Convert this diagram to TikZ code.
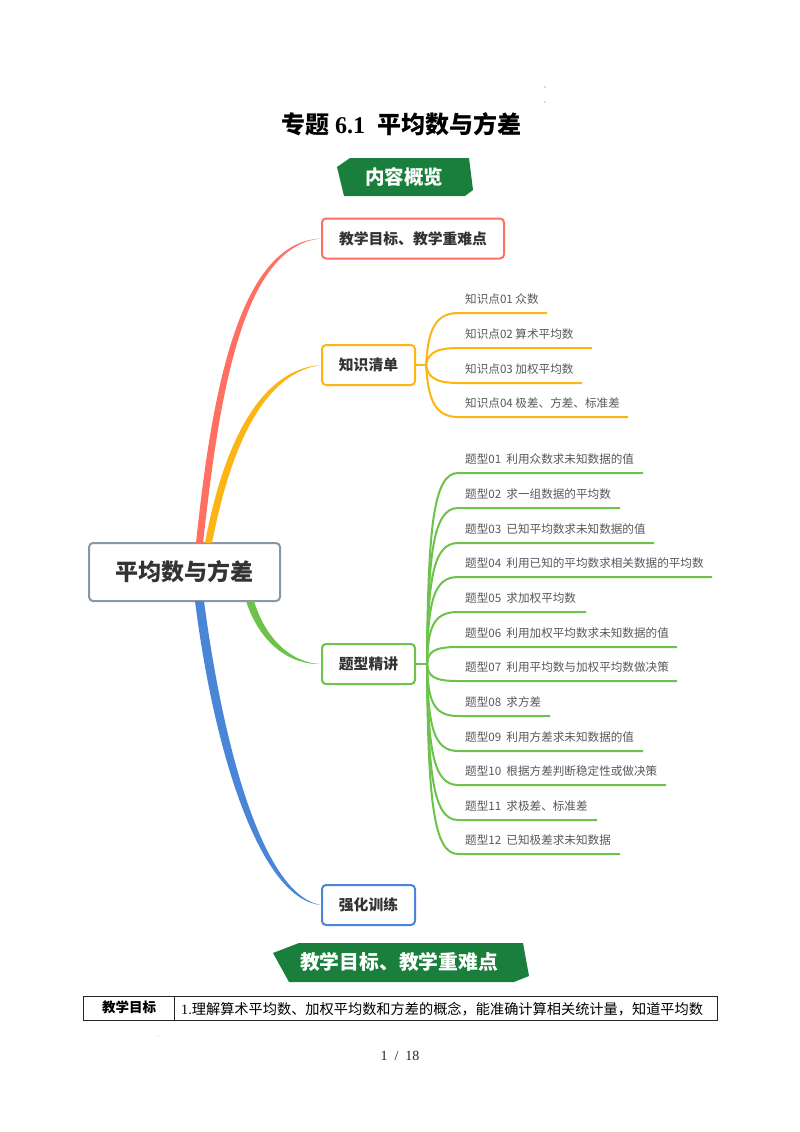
\documentclass[tikz,border=0pt]{standalone}
\usepackage{fontspec}
\setmainfont{Liberation Serif}
\newfontfamily\cjk{Noto Sans CJK SC}
\definecolor{bannergreen}{HTML}{1A7F3C}
\definecolor{mapred}{HTML}{FF7062}
\definecolor{maporange}{HTML}{FDB515}
\definecolor{mapgreen}{HTML}{6CC24A}
\definecolor{mapblue}{HTML}{4A86D8}
\definecolor{mapgray}{HTML}{8A97A8}
\tikzset{
  topic/.style={draw,line width=2pt,rounded corners=4pt,fill=white,inner sep=0pt,
    minimum height=40pt,font=\cjk\bfseries\fontsize{14.8}{16}\selectfont,text=black!80},
  leaf/.style={anchor=west,inner sep=0pt,font=\cjk\fontsize{11.6}{13}\selectfont,text=black!65},
  banner/.style={fill=bannergreen},
  bannertext/.style={text=white,inner sep=0pt},
  cell/.style={draw=black!85,line width=0.9pt,inner sep=0pt,minimum height=24pt,anchor=north west}
}
\begin{document}
\begin{tikzpicture}[x=1pt,y=-1pt]
  \useasboundingbox[fill=white] (0,0) rectangle (800,1132);

  \node[inner sep=0pt] (title) at (401,124) {\fontsize{24}{26}\selectfont\bfseries{\cjk 专题}\hspace{6pt}6.1\hspace{12pt}{\cjk 平均数与方差}};

  \fill[banner] (337,167) -- (350,158) -- (469,158) -- (473,190) -- (465,196) -- (344,196) -- cycle;
  \node[bannertext,font=\cjk\bfseries\fontsize{19.5}{21}\selectfont] (overview) at (404,177) {内容概览};

  % branches first, boxes go over them
  \coordinate (rootRa) at (196,543);
  \coordinate (rootRb) at (203,543);
  \coordinate (rootOa) at (205,543);
  \coordinate (rootOb) at (212,543);
  \coordinate (rootGa) at (246,601);
  \coordinate (rootGb) at (254,601);
  \coordinate (rootBa) at (195,601);
  \coordinate (rootBb) at (204,601);

  \node[topic,draw=mapgray,minimum width=191pt,minimum height=58pt,font=\cjk\bfseries\fontsize{23}{25}\selectfont] (root) at (184.5,572) {平均数与方差};
  \node[topic,draw=mapred,minimum width=182pt] (goal) at (413,238.5) {教学目标、教学重难点};
  \node[topic,draw=maporange,minimum width=93pt] (know) at (368.5,365) {知识清单};
  \node[topic,draw=mapgreen,minimum width=93pt] (type) at (368.5,664) {题型精讲};
  \node[topic,draw=mapblue,minimum width=93pt] (train) at (368.5,905) {强化训练};

  \fill[mapred] (goal.west) .. controls (241,246) and (219,400) .. (rootRb) -- (rootRa) .. controls (211,400) and (237,242) .. (goal.west);
  \fill[maporange] (know.west) .. controls (266,373) and (232,440) .. (rootOb) -- (rootOa) .. controls (224,440) and (262,369) .. (know.west);
  \fill[mapgreen] (type.west) .. controls (292,663) and (266,640) .. (rootGb) -- (rootGa) .. controls (260,644) and (290,665) .. (type.west);
  \fill[mapblue] (train.west) .. controls (266,896) and (225,760) .. (rootBb) -- (rootBa) .. controls (215,760) and (262,900) .. (train.west);

  \coordinate (hubK) at (426,365);
  \draw[maporange,line width=2pt] (know.east) -- (hubK);
  \foreach \n/\yy/\xend/\lab in {1/313/547/知识点01 众数,2/348/592/知识点02 算术平均数,3/383/582/知识点03 加权平均数,4/417/628/知识点04 极差、方差、标准差}{
    \pgfmathsetmacro\ymid{365+0.55*(\yy-365)}
    \pgfmathsetmacro\ytext{\yy-14}
    \node[leaf] (k\n) at (465,\ytext) {\lab};
    \coordinate (k\n s) at (458,\yy);
    \coordinate (k\n e) at (\xend,\yy);
    \draw[maporange,line width=2pt] (hubK) .. controls (428,\ymid) and (432,\yy) .. (k\n s) -- (k\n e);
  }

  \coordinate (hubT) at (427,664);
  \draw[mapgreen,line width=2pt] (type.east) -- (hubT);
  \foreach \n/\yy/\xend/\lab in {1/473/643/题型01\ \ 利用众数求未知数据的值,2/508/620/题型02\ \ 求一组数据的平均数,3/543/654/题型03\ \ 已知平均数求未知数据的值,4/577/712/题型04\ \ 利用已知的平均数求相关数据的平均数,5/612/586/题型05\ \ 求加权平均数,6/647/677/题型06\ \ 利用加权平均数求未知数据的值,7/681/677/题型07\ \ 利用平均数与加权平均数做决策,8/716/550/题型08\ \ 求方差,9/751/643/题型09\ \ 利用方差求未知数据的值,10/785/666/题型10\ \ 根据方差判断稳定性或做决策,11/820/597/题型11\ \ 求极差、标准差,12/854/620/题型12\ \ 已知极差求未知数据}{
    \pgfmathsetmacro\ymid{664+0.7*(\yy-664)}
    \pgfmathsetmacro\ytext{\yy-14}
    \node[leaf] (t\n) at (465,\ytext) {\lab};
    \coordinate (t\n s) at (458,\yy);
    \coordinate (t\n e) at (\xend,\yy);
    \draw[mapgreen,line width=2pt] (hubT) .. controls (428,\ymid) and (433,\yy) .. (t\n s) -- (t\n e);
  }

  \fill[banner] (273,953) -- (299,943) -- (523,943) -- (529,976) -- (514,982) -- (289,982) -- cycle;
  \node[bannertext,font=\cjk\bfseries\fontsize{19.8}{22}\selectfont] (section) at (399,962) {教学目标、教学重难点};

  \node[cell,minimum width=91pt] (head) at (83,996) {};
  \node[cell,minimum width=543pt] (body) at (174,996) {};
  \node[inner sep=0pt,font=\cjk\bfseries\fontsize{13.5}{15}\selectfont] (headtext) at (129,1007) {教学目标};
  \node[inner sep=0pt,anchor=west,font=\fontsize{14.2}{16}\selectfont] (bodytext) at (181,1009) {1.{\cjk 理解算术平均数、加权平均数和方差的概念，能准确计算相关统计量，知道平均数}};

  \node[inner sep=0pt,font=\fontsize{14}{16}\selectfont,text=black!85] (page) at (400,1056) {1\ \ /\ \ 18};

  \fill[black!60] (545,87) circle (0.6pt);
  \fill[black!60] (545,102) circle (0.6pt);
  \fill[black!40] (158,1036) circle (0.5pt);
\end{tikzpicture}
\end{document}
